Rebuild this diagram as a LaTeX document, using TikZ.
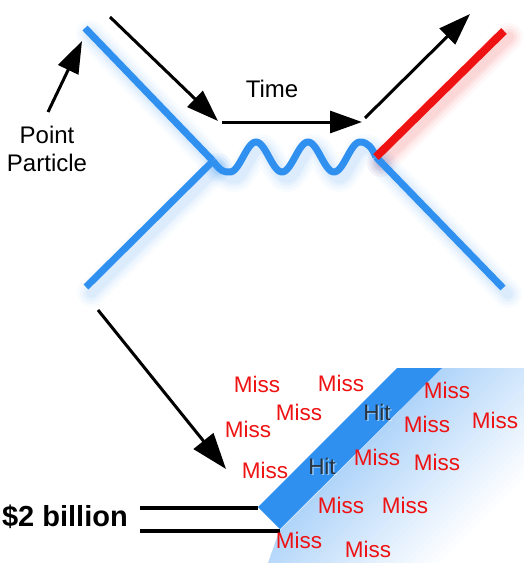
\documentclass[tikz,border=0pt]{standalone}
\usepackage{fontspec}
\setmainfont{Liberation Sans}
\usetikzlibrary{arrows.meta}
\definecolor{bb}{RGB}{48,144,240}
\definecolor{rr}{RGB}{238,18,18}
\definecolor{hitc}{RGB}{40,52,64}
\newcommand{\glowit}[2]{%
  \begin{scope}[transform canvas={shift={(5pt,-6pt)}}]
    \draw[#1, line width=28pt, opacity=0.03, line cap=round] #2;
    \draw[#1, line width=22pt, opacity=0.04, line cap=round] #2;
    \draw[#1, line width=16pt, opacity=0.05, line cap=round] #2;
    \draw[#1, line width=11pt, opacity=0.06, line cap=round] #2;
  \end{scope}}
\begin{document}
\begin{tikzpicture}[x=1pt,y=-1pt,
  pline/.style={line width=7pt, draw=bb, line cap=butt, line join=round},
  rline/.style={line width=8pt, draw=rr, line cap=butt},
  arr/.style={line width=3pt, -{Triangle[length=32pt,width=22pt]}},
  dline/.style={line width=3.5pt, black},
  misst/.style={text=rr, font=\fontsize{22.5}{26}\selectfont, inner sep=0pt},
  hitt/.style={text=hitc, font=\fontsize{22.5}{26}\selectfont, inner sep=0pt},
  lbl/.style={text=black, font=\fontsize{24}{28}\selectfont, inner sep=0pt}]
\useasboundingbox (0,0) rectangle (524,563);
% key points
\coordinate (A) at (85,28);
\coordinate (J1) at (213,161);
\coordinate (B) at (86,287);
\coordinate (J2) at (376,157);
\coordinate (R) at (504,31);
\coordinate (C) at (503,288);
% glows
\glowit{bb}{(A) -- (J1)}
\glowit{bb}{(J1) -- (B)}
\glowit{bb}{(J2) -- (C)}
\glowit{rr}{(J2) -- (R)}
\glowit{bb}{(J1) .. controls (221,172) and (224,172) .. (230,172) -- plot[domain=230:360,samples=91] (\x,{157-15*sin((\x-230)/26*180-90)}) .. controls (368,142) and (372,148) .. (J2)}
% gradient behind bar
\begin{scope}
  \clip (280,529) -- (442,368) -- (524,368) -- (524,563) -- (268,563) -- cycle;
  \foreach \d in {0,5,...,130}{
    \pgfmathsetmacro\o{\d*0.7071}
    \pgfmathsetmacro\p{38*(1-\d/135)}
    \fill[bb!\p!white] ({442+\o-300},{368+\o+300}) -- ({442+\o+300},{368+\o-300}) -- ({442+\o+4.4+300},{368+\o+4.4-300}) -- ({442+\o+4.4-300},{368+\o+4.4+300}) -- cycle;
  }
\end{scope}
% bar
\fill[bb] (258,507) -- (397,368) -- (442,368) -- (280,529) -- cycle;
% particle lines
\draw[pline] (A) -- (J1);
\draw[pline] (J1) -- (B);
\draw[pline] (J1) .. controls (221,172) and (224,172) .. (230,172) -- plot[domain=230:360,samples=91] (\x,{157-15*sin((\x-230)/26*180-90)}) .. controls (368,142) and (372,148) .. (J2);
\draw[pline] (J2) -- (C);
\draw[rline] (J2) -- (R);
% arrows
\coordinate (a1s) at (110,17);  \coordinate (a1e) at (218,121);
\coordinate (a2s) at (222,122); \coordinate (a2e) at (362,122);
\coordinate (a3s) at (365,118); \coordinate (a3e) at (470,14);
\coordinate (a4s) at (48,112);  \coordinate (a4e) at (82,41);
\coordinate (a5s) at (98,310);  \coordinate (a5e) at (226,469);
\draw[arr] (a1s) -- (a1e);
\draw[arr] (a2s) -- (a2e);
\draw[arr] (a3s) -- (a3e);
\draw[arr] (a4s) -- (a4e);
\draw[arr, -{Triangle[length=36pt,width=25pt]}] (a5s) -- (a5e);
% double lines
\coordinate (l1s) at (140,508); \coordinate (l1e) at (258,508);
\coordinate (l2s) at (140,531); \coordinate (l2e) at (280,531);
\draw[dline] (l1s) -- (l1e);
\draw[dline] (l2s) -- (l2e);
% labels
\node[lbl] (time) at (272,89) {Time};
\node[lbl, align=center] (pp) at (47,149) {Point\\Particle};
\node[text=black, font=\fontsize{29}{32}\selectfont\bfseries, inner sep=0pt, anchor=east] (cost) at (128,517) {\$2 billion};
\node[hitt, text=white, opacity=0.5] at (378.5,413.5) {Hit};
\node[hitt, text=white, opacity=0.5] at (323.5,467.5) {Hit};
\node[hitt] (h1) at (377,412) {Hit};
\node[hitt] (h2) at (322,466) {Hit};
\node[misst] (m1) at (257,384) {Miss};
\node[misst] (m2) at (341,383) {Miss};
\node[misst] (m3) at (447,390) {Miss};
\node[misst] (m4) at (299,412) {Miss};
\node[misst] (m5) at (248,429) {Miss};
\node[misst] (m6) at (427,424) {Miss};
\node[misst] (m7) at (495,420) {Miss};
\node[misst] (m8) at (265,470) {Miss};
\node[misst] (m9) at (377,457) {Miss};
\node[misst] (m10) at (437,462) {Miss};
\node[misst] (m11) at (341,505) {Miss};
\node[misst] (m12) at (405,505) {Miss};
\node[misst] (m13) at (299,540) {Miss};
\node[misst] (m14) at (368,549) {Miss};
\end{tikzpicture}
\end{document}
